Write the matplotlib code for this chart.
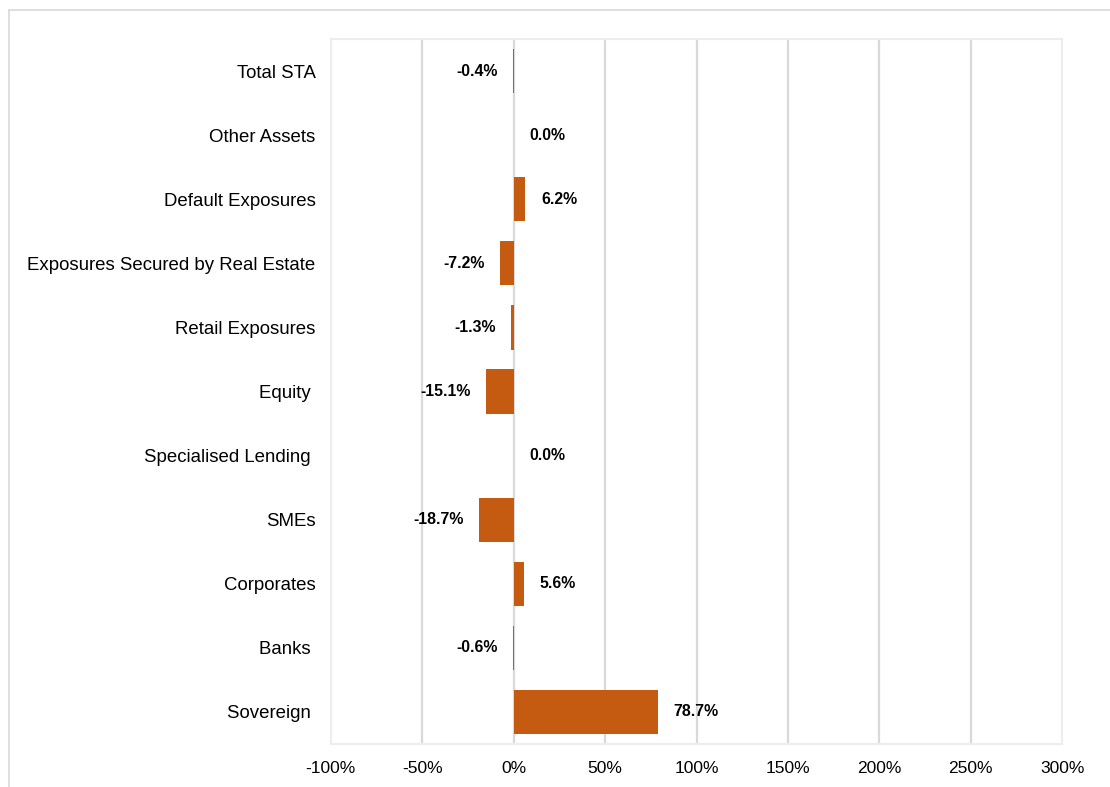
import matplotlib.pyplot as plt
from matplotlib.lines import Line2D
from matplotlib.ticker import FuncFormatter

# exposure classes, top to bottom
categories = ['Total STA', 'Other Assets', 'Default Exposures',
              'Exposures Secured by Real Estate', 'Retail Exposures', 'Equity ',
              'Specialised Lending ', 'SMEs', 'Corporates', 'Banks ', 'Sovereign ']
changes = [-0.4, 0.0, 6.2, -7.2, -1.3, -15.1, 0.0, -18.7, 5.6, -0.6, 78.7]
xticks = [-100, -50, 0, 50, 100, 150, 200, 250, 300]

bar_col = '#C55A11'
plt.rcParams['font.family'] = ['Liberation Sans', 'DejaVu Sans']

fig = plt.figure(figsize=(11.1, 7.87), dpi=100)
ax = fig.add_axes([0.298, 0.0546, 0.659, 0.8958])

ypos = list(range(len(categories)))
ax.barh(ypos, changes, height=0.69, color=bar_col, linewidth=0, zorder=3)

# value labels just past the end of each bar
for y, v in zip(ypos, changes):
    off = 11.5 if v >= 0 else -11
    ax.annotate(f'{v:.1f}%', xy=(v, y), xytext=(off, 0), textcoords='offset points',
                ha='left' if v >= 0 else 'right', va='center',
                fontsize=11.4, fontweight='bold', zorder=4)

ax.set_xlim(-100, 300)
ax.set_ylim(len(categories) - 0.5, -0.5)
ax.set_xticks(xticks)
ax.xaxis.set_major_formatter(FuncFormatter(lambda v, p: f'{v:.0f}%'))
ax.set_yticks(ypos)
ax.set_yticklabels(categories, fontsize=13.4)
for lab in ax.get_xticklabels():
    lab.set_fontsize(12.5)
ax.tick_params(axis='x', length=0, pad=12)
ax.tick_params(axis='y', length=0, pad=11)

for x in xticks[1:-1]:
    ax.axvline(x, color='#D9D9D9', linewidth=1.6, zorder=1)
for s in ax.spines.values():
    s.set_color('#EDEDED')
    s.set_linewidth(1.5)

# outer frame lines
fig.add_artist(Line2D([9 / 1110, 1], [1 - 10 / 787, 1 - 10 / 787],
                      color='#D9D9D9', linewidth=1.2))
fig.add_artist(Line2D([9 / 1110, 9 / 1110], [0, 1 - 10 / 787],
                      color='#D9D9D9', linewidth=1.2))

fig.savefig('out.png', dpi=100)
